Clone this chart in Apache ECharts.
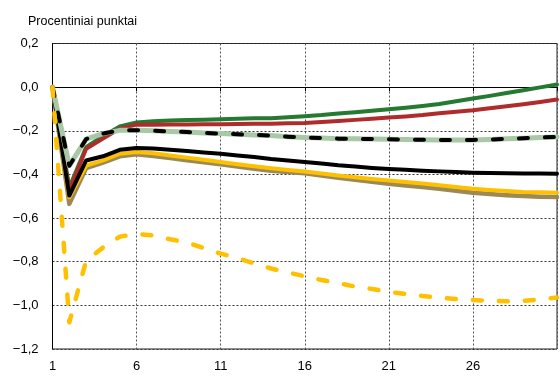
<!DOCTYPE html>
<html>
<head>
<meta charset="utf-8">
<script src="https://cdn.jsdelivr.net/npm/echarts@6/dist/echarts.min.js"></script>
<style>
  html, body { margin: 0; padding: 0; background: #fff; }
  #chart { width: 560px; height: 377px; }
</style>
</head>
<body>
<div id="chart"></div>
<script>
// Horizon (periods after the shock)
const periods = Array.from({ length: 31 }, (_, i) => String(i + 1));

// Responses, percentage points
const greenLine = [0, -0.46, -0.275, -0.225, -0.18, -0.162, -0.156, -0.153, -0.151, -0.149, -0.147,
  -0.145, -0.143, -0.142, -0.138, -0.133, -0.128, -0.121, -0.115, -0.108, -0.101,
  -0.094, -0.086, -0.077, -0.065, -0.052, -0.040, -0.027, -0.014, -0.001, 0.012];
const redLine = [0, -0.475, -0.282, -0.236, -0.19, -0.172, -0.172, -0.171, -0.171, -0.170, -0.170,
  -0.169, -0.168, -0.168, -0.166, -0.164, -0.160, -0.155, -0.150, -0.145, -0.139,
  -0.134, -0.128, -0.120, -0.113, -0.106, -0.097, -0.088, -0.078, -0.068, -0.057];
const dashedLine = [0, -0.36, -0.238, -0.213, -0.198, -0.197, -0.200, -0.203, -0.206, -0.210, -0.213,
  -0.216, -0.219, -0.222, -0.227, -0.231, -0.233, -0.236, -0.237, -0.238, -0.239,
  -0.240, -0.241, -0.242, -0.242, -0.242, -0.240, -0.237, -0.234, -0.231, -0.228];
const blackLine = [0, -0.497, -0.336, -0.317, -0.287, -0.279, -0.281, -0.287, -0.293, -0.299, -0.305,
  -0.313, -0.320, -0.329, -0.336, -0.343, -0.350, -0.358, -0.364, -0.370, -0.375,
  -0.379, -0.383, -0.386, -0.389, -0.392, -0.394, -0.395, -0.396, -0.396, -0.397];
const yellowLine = [0, -0.505, -0.36, -0.336, -0.305, -0.297, -0.303, -0.313, -0.323, -0.333, -0.343,
  -0.353, -0.363, -0.372, -0.380, -0.387, -0.396, -0.405, -0.413, -0.421, -0.428,
  -0.435, -0.442, -0.450, -0.458, -0.466, -0.471, -0.476, -0.480, -0.482, -0.484];
const brownLine = [0, -0.535, -0.371, -0.346, -0.317, -0.308, -0.316, -0.325, -0.335, -0.344, -0.354,
  -0.364, -0.374, -0.383, -0.389, -0.395, -0.405, -0.415, -0.424, -0.434, -0.443,
  -0.451, -0.458, -0.466, -0.475, -0.484, -0.490, -0.495, -0.499, -0.502, -0.504];
const yellowDashed = [0, -1.078, -0.795, -0.735, -0.685, -0.673, -0.680, -0.697, -0.712, -0.738, -0.763,
  -0.783, -0.808, -0.831, -0.849, -0.867, -0.884, -0.898, -0.914, -0.925, -0.938,
  -0.948, -0.957, -0.965, -0.971, -0.976, -0.979, -0.981, -0.980, -0.973, -0.964];

// Axis tick labels
const xTickLabels = ['1', '6', '11', '16', '21', '26'];
const yTickLabels = ['−1,2', '−1,0', '−0,8', '−0,6', '−0,4', '−0,2', '0,0', '0,2'];
const yTickValues = [-1.2, -1.0, -0.8, -0.6, -0.4, -0.2, 0.0, 0.2];

const FONT = '"Liberation Sans", Arial, sans-serif';

function solid(name, data, color, width, z) {
  return {
    name, type: 'line', data, z,
    symbol: 'none', smooth: false, silent: true,
    lineStyle: { color, width, cap: 'round', join: 'round' }
  };
}

function dashed(name, data, color, width, z) {
  return {
    name, type: 'line', data, z,
    symbol: 'none', smooth: false, silent: true,
    lineStyle: { color, width, type: [9, 17], cap: 'round', join: 'round' }
  };
}

const chart = echarts.init(document.getElementById('chart'), null, { renderer: 'canvas' });

chart.setOption({
  animation: false,
  backgroundColor: '#fff',
  textStyle: { fontFamily: FONT },
  title: {
    text: 'Procentiniai punktai',
    left: 23, top: 10,
    textStyle: { fontFamily: FONT, fontSize: 12.5, fontWeight: 'normal', color: '#000' }
  },
  grid: {
    left: 52.5, right: 1.5, top: 43.5, bottom: 28,
    show: true, borderColor: '#222', borderWidth: 1
  },
  xAxis: {
    type: 'category',
    data: periods,
    boundaryGap: false,
    axisLine: { lineStyle: { color: '#000', width: 1 } },
    axisTick: { show: true, interval: 4, length: 4, lineStyle: { color: '#000' } },
    axisLabel: {
      interval: 4, margin: 11, color: '#000', fontSize: 13, fontFamily: FONT,
      formatter: v => (xTickLabels.includes(v) ? v : '')
    },
    splitLine: {
      show: true, interval: 4,
      lineStyle: { color: '#555', width: 1, type: [2, 2] }
    }
  },
  yAxis: {
    type: 'value',
    min: -1.2, max: 0.2, interval: 0.2,
    axisLine: { show: true, lineStyle: { color: '#000', width: 1 } },
    axisTick: { show: false },
    axisLabel: {
      margin: 14, color: '#000', fontSize: 13, fontFamily: FONT,
      formatter: v => {
        const i = yTickValues.findIndex(t => Math.abs(t - v) < 1e-6);
        return i >= 0 ? yTickLabels[i] : '';
      }
    },
    splitLine: { show: true, lineStyle: { color: '#333', width: 1, type: [2, 2] } }
  },
  series: [
    solid('green', greenLine, '#237a30', 4, 2),
    solid('red', redLine, '#b02c2c', 4, 3),
    solid('brown', brownLine, '#9b8a56', 4.5, 4),
    solid('yellow', yellowLine, '#ffc000', 4, 5),
    solid('black', blackLine, '#000000', 4, 6),
    solid('sage', dashedLine, '#a8c8a6', 5, 7),
    dashed('black dashed', dashedLine, '#000000', 4, 8),
    dashed('yellow dashed', yellowDashed, '#ffc000', 4.5, 9)
  ]
});
</script>
</body>
</html>
